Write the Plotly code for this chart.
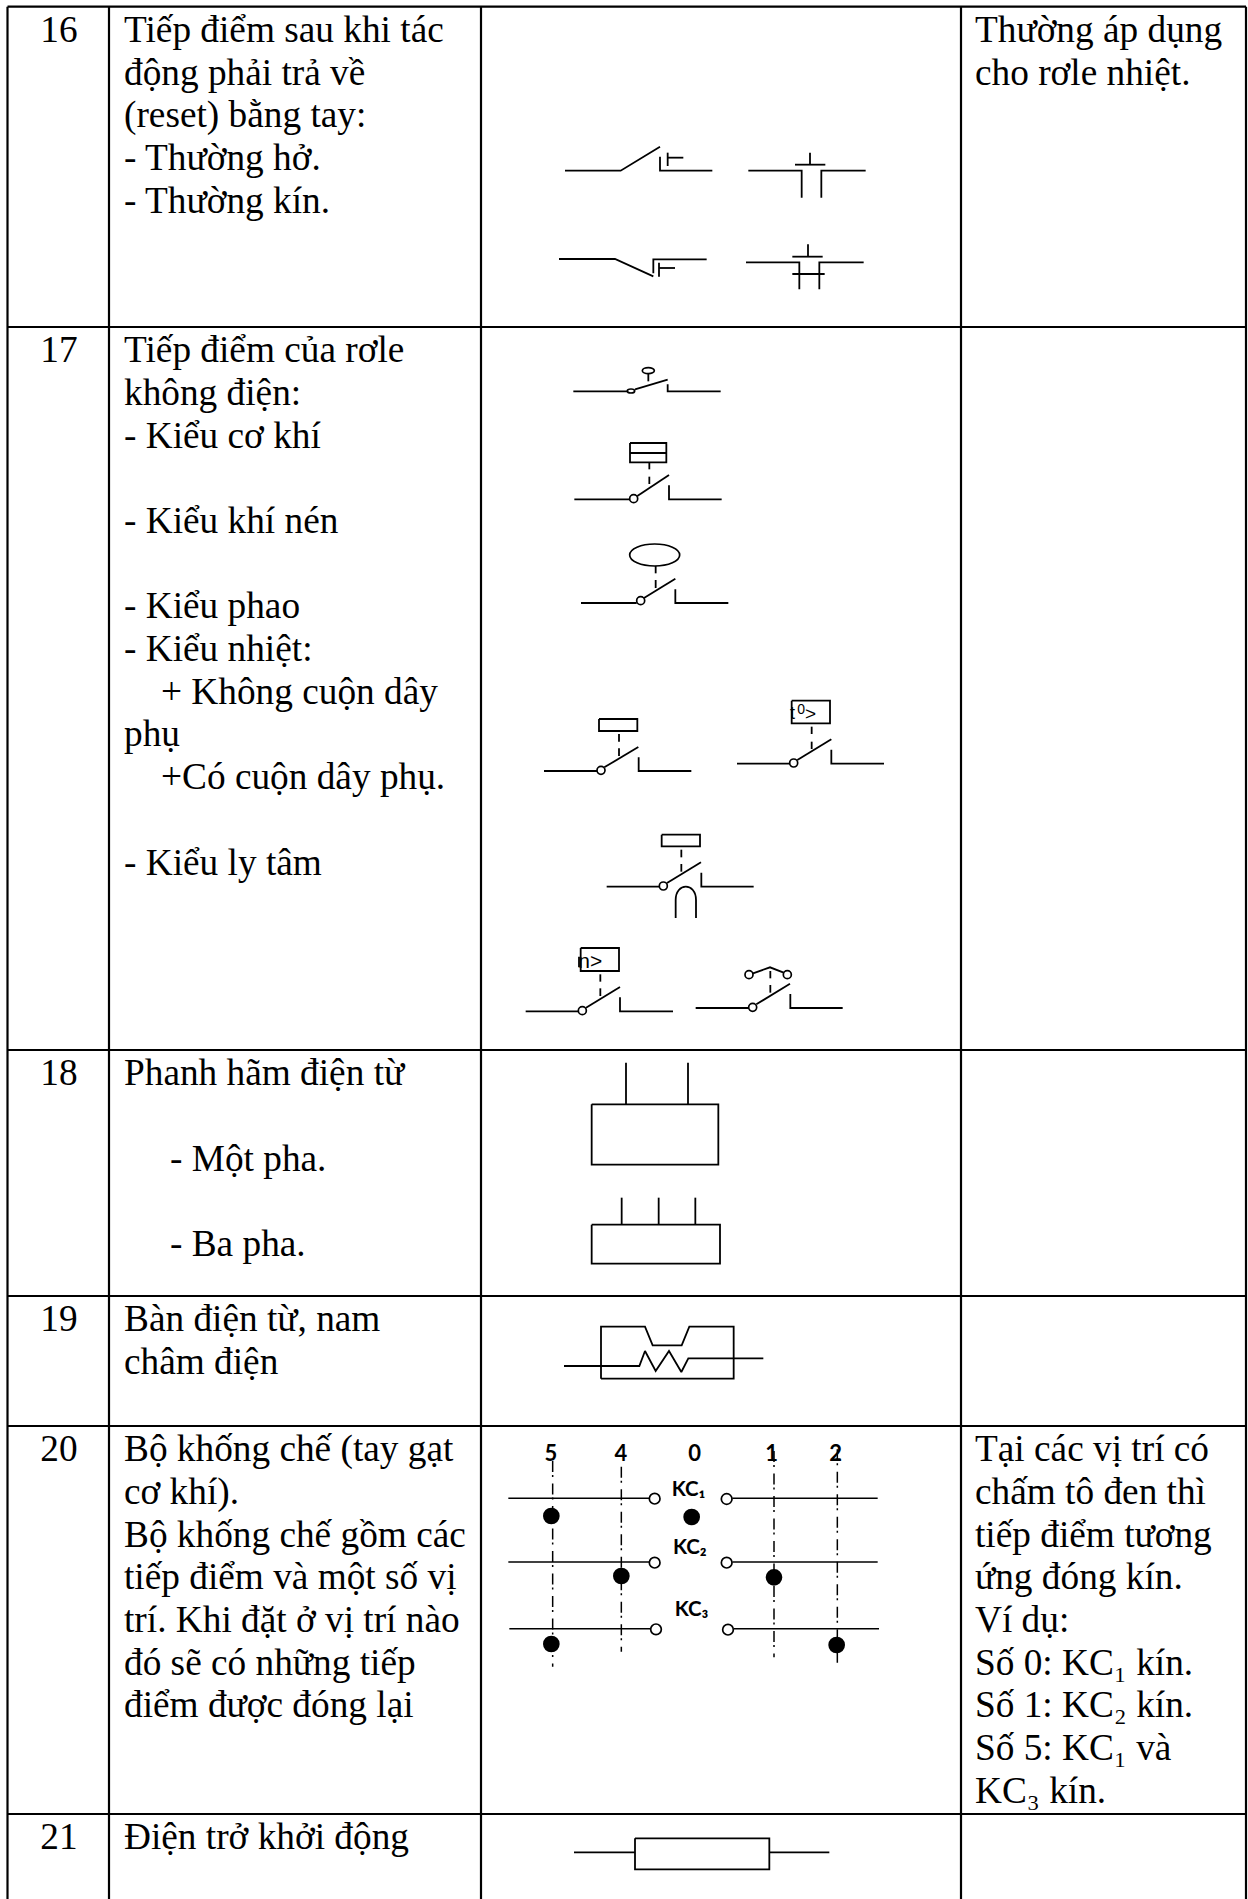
import plotly.graph_objects as go

W, H = 1248, 1899
SERIF = "Liberation Serif"
FS = 37.3

# ---- table frame ----
col_x = [7.5, 109, 481, 961, 1246]
row_y = [6.7, 327, 1050, 1296, 1426, 1814]
page_bottom = 1899

# ---- text (x, line index, string) ----
LEFT, RIGHT, IND1, IND2 = 124, 975, 161, 170
numbers = ["16", "17", "18", "19", "20", "21"]
LH = 42.7
row16 = [(LEFT, 0, "Tiếp điểm sau khi tác"), (LEFT, 1, "động phải trả về"), (LEFT, 2, "(reset) bằng tay:"),
         (LEFT, 3, "- Thường hở."), (LEFT, 4, "- Thường kín.")]
row16r = [(RIGHT, 0, "Thường áp dụng"), (RIGHT, 1, "cho rơle nhiệt.")]
row17 = [(LEFT, 0, "Tiếp điểm của rơle"), (LEFT, 1, "không điện:"), (LEFT, 2, "- Kiểu cơ khí"),
         (LEFT, 4, "- Kiểu khí nén"), (LEFT, 6, "- Kiểu phao"), (LEFT, 7, "- Kiểu nhiệt:"),
         (IND1, 8, "+ Không cuộn dây"), (LEFT, 9, "phụ"), (IND1, 10, "+Có cuộn dây phụ."),
         (LEFT, 12, "- Kiểu ly tâm")]
row18 = [(LEFT, 0, "Phanh hãm điện từ"), (IND2, 2, "- Một pha."), (IND2, 4, "- Ba pha.")]
row19 = [(LEFT, 0, "Bàn điện từ, nam"), (LEFT, 1, "châm điện")]
row20 = [(LEFT, 0, "Bộ khống chế (tay gạt"), (LEFT, 1, "cơ khí)."), (LEFT, 2, "Bộ khống chế gồm các"),
         (LEFT, 3, "tiếp điểm và một số vị"), (LEFT, 4, "trí. Khi đặt ở vị trí nào"),
         (LEFT, 5, "đó sẽ có những tiếp"), (LEFT, 6, "điểm được đóng lại")]
row20r = [(RIGHT, 0, "Tại các vị trí có"), (RIGHT, 1, "chấm tô đen thì"), (RIGHT, 2, "tiếp điểm tương"),
          (RIGHT, 3, "ứng đóng kín."), (RIGHT, 4, "Ví dụ:"), (RIGHT, 5, "Số 0: KC₁ kín."),
          (RIGHT, 6, "Số 1: KC₂ kín."), (RIGHT, 7, "Số 5: KC₁ và"),
          (RIGHT, 8, "KC₃ kín.")]
row21 = [(LEFT, 0, "Điện trở khởi động")]
TEXT_ROWS = [(0, row16), (0, row16r), (1, row17), (2, row18), (3, row19), (4, row20), (4, row20r), (5, row21)]

# ---- symbols: polylines written in crop coordinates (origin + value/3) ----
O1, O2, O3, O4, O5, O8 = (480, 0), (520, 340), (510, 680), (540, 1040), (490, 1420), (540, 1780)

lines = [
    (O1, [(255,512),(422,512),(540,440)]), (O1, [(540,470),(540,512),(697,512)]),
    (O1, [(563,458),(563,498)]), (O1, [(563,473),(610,473)]),
    (O1, [(805,512),(965,512),(965,593)]), (O1, [(1157,512),(1024,512),(1024,593)]),
    (O1, [(945,494),(1036,494)]), (O1, [(990,458),(990,494)]),
    (O1, [(237,777),(405,777),(520,829)]), (O1, [(520,820),(520,778),(680,778)]),
    (O1, [(537,788),(537,830)]), (O1, [(537,804),(585,804)]),
    (O1, [(798,787),(958,787),(958,868)]), (O1, [(1151,787),(1018,787),(1018,868)]),
    (O1, [(937,770),(1028,770)]), (O1, [(984,733),(984,770)]), (O1, [(937,822),(1034,822)]),

    (O2, [(160,154),(322,154)]), (O2, [(345,148),(443,119)]), (O2, [(443,133),(443,154),(602,154)]),
    (O2, [(385,101),(385,124)]),
    (O2, [(163,478),(330,478)]), (O2, [(352,468),(447,405)]), (O2, [(447,436),(447,478),(605,478)]),
    (O2, [(330,309),(439,309),(439,367),(330,367),(330,309)]), (O2, [(330,339),(439,339)]),
    (O2, [(388,367),(388,388)]), (O2, [(388,410),(388,432)]),
    (O2, [(183,789),(350,789)]), (O2, [(372,774),(466,716)]), (O2, [(466,748),(466,789),(625,789)]),
    (O2, [(407,678),(407,700)]), (O2, [(407,720),(407,744)]),

    (O3, [(102,273),(262,273)]), (O3, [(283,262),(385,201)]), (O3, [(386,232),(386,273),(544,273)]),
    (O3, [(267,117),(382,117),(382,153),(267,153),(267,117)]), (O3, [(327,162),(327,185)]), (O3, [(327,205),(327,228)]),
    (O3, [(681,251),(840,251)]), (O3, [(862,240),(964,178)]), (O3, [(964,209),(964,251),(1122,251)]),
    (O3, [(845,62),(960,62),(960,130),(845,130),(845,62)]), (O3, [(905,140),(905,162)]), (O3, [(905,185),(905,207)]),
    (O3, [(290,620),(450,620)]), (O3, [(471,609),(573,547)]), (O3, [(574,578),(574,620),(731,620)]),
    (O3, [(455,464),(570,464),(570,499),(455,499),(455,464)]), (O3, [(514,509),(514,532)]), (O3, [(514,552),(514,575)]),
    (O3, [(47,994),(206,994)]), (O3, [(228,983),(330,921)]), (O3, [(330,952),(330,994),(489,994)]),
    (O3, [(212,804),(327,804),(327,873),(212,873),(212,804)]), (O3, [(271,883),(271,905)]), (O3, [(271,925),(271,948)]),
    (O3, [(207,830),(207,862)]),
    (O3, [(557,984),(717,984)]), (O3, [(739,973),(840,911)]), (O3, [(841,942),(841,984),(998,984)]),
    (O3, [(729,880),(780,862),(821,878)]), (O3, [(781,873),(781,895)]), (O3, [(781,915),(781,938)]),

    (O4, [(155,193),(535,193),(535,374),(155,374),(155,193)]), (O4, [(258,68),(258,193)]), (O4, [(444,68),(444,193)]),
    (O4, [(155,554),(540,554),(540,671),(155,671),(155,554)]), (O4, [(245,473),(245,554)]),
    (O4, [(356,473),(356,554)]), (O4, [(466,473),(466,554)]),
    (O4, [(183,1016),(183,860),(315,860),(338,916),(425,916),(448,860),(581,860),(581,1016),(183,1016)]),
    (O4, [(72,978),(298,978),(315,933),(347,993),(387,933),(424,996),(445,955),(670,955)]),

    (O8, [(285,175),(688,175),(688,268),(285,268),(285,175)]), (O8, [(102,217),(285,217)]), (O8, [(688,217),(868,217)]),
]
thin_lines = [
    (O5, [(55,235),(478,235)]), (O5, [(727,235),(1163,235)]),
    (O5, [(55,426),(478,426)]), (O5, [(727,426),(1163,426)]),
    (O5, [(58,626),(482,626)]), (O5, [(731,626),(1167,626)]),
]
dashdot_lines = [
    (O5, [(188,123),(188,740)]), (O5, [(394,140),(394,695)]),
    (O5, [(852,93),(852,712)]), (O5, [(1042,88),(1042,730)]),
]
# open circles / ellipses: centre x, centre y, rx, ry
open_rings = [
    (O2, 333,153,11,6), (O2, 385,92,18,9), (O2, 341,476,12,12), (O2, 362,782,12,12), (O2, 404,645,75,33),
    (O3, 273,271,12,12), (O3, 851,249,12,12), (O3, 460,618,12,12), (O3, 217,992,12,12), (O3, 728,982,12,12),
    (O3, 717,884,12,12), (O3, 832,884,12,12),
    (O5, 494,236,16,16), (O5, 710,237,16,16), (O5, 494,428,16,16), (O5, 710,428,16,16),
    (O5, 498,628,16,16), (O5, 714,629,16,16),
]
filled_dots = [(O5, 184,288), (O5, 605,291), (O5, 394,468), (O5, 852,472), (O5, 184,672), (O5, 1040,675)]
DOT_R = 25
arch = (O3, 497, 714, 558, 660, 620)

switch_labels = [("5",183,106), ("4",393,106), ("0",614,106), ("1",845,106), ("2",1037,106)]
kc_labels = [("KC₁",545,212), ("KC₂",549,386), ("KC₃",554,572)]
small_labels = [(O3, "0", 862, 92, 14), (O3, ">", 885, 107, 19), (O3, "t", 840, 104, 18), (O3, "n>", 205, 849, 21)]


def Z(o, x, y):
    return o[0] + x / 3, o[1] + y / 3


fig = go.Figure()


def add_line(xs, ys, width, dash="solid"):
    fig.add_trace(go.Scatter(x=xs, y=ys, mode="lines", line=dict(color="#000", width=width, dash=dash),
                             hoverinfo="skip", showlegend=False))


def add_text(x, y, s, size, family=SERIF, pos="middle right", weight="normal"):
    fig.add_trace(go.Scatter(x=[x], y=[y], mode="text", text=[s], textposition=pos,
                             textfont=dict(family=family, size=size, color="#000", weight=weight),
                             hoverinfo="skip", showlegend=False))


# frame
for xv in col_x:
    add_line([xv, xv], [row_y[0], page_bottom], 2.2)
for yv in row_y:
    add_line([col_x[0], col_x[-1]], [yv, yv], 2.2)

# cell text
MID = 0.245 * FS
for i, n in enumerate(numbers):
    add_text(59, row_y[i] + 35 - MID, n, FS, pos="middle center")
for r, cells in TEXT_ROWS:
    for x, k, s in cells:
        add_text(x, row_y[r] + 35 + k * LH - MID, s, FS)

# symbols
for o, pts in lines:
    p = [Z(o, *q) for q in pts]
    add_line([a for a, _ in p], [b for _, b in p], 1.8)
for o, pts in thin_lines:
    p = [Z(o, *q) for q in pts]
    add_line([a for a, _ in p], [b for _, b in p], 1.5)
for o, pts in dashdot_lines:
    p = [Z(o, *q) for q in pts]
    add_line([a for a, _ in p], [b for _, b in p], 1.5, dash="11px,3px,2px,6.5px")

for o, cx, cy, rx, ry in open_rings:
    x0, y0 = Z(o, cx - rx, cy - ry)
    x1, y1 = Z(o, cx + rx, cy + ry)
    fig.add_shape(type="circle", xref="x", yref="y", x0=x0, y0=y0, x1=x1, y1=y1,
                  line=dict(color="#000", width=1.7), fillcolor="#fff")
for o, cx, cy in filled_dots:
    x0, y0 = Z(o, cx - DOT_R, cy - DOT_R)
    x1, y1 = Z(o, cx + DOT_R, cy + DOT_R)
    fig.add_shape(type="circle", xref="x", yref="y", x0=x0, y0=y0, x1=x1, y1=y1,
                  line=dict(color="#000", width=0), fillcolor="#000")
o, xa, yb, xc, ys, yt = arch
ax, ay = Z(o, xa, yb)
bx, by = Z(o, xa, ys)
cx_, cy_ = Z(o, xc, ys)
dx, dy = Z(o, xc, yb)
_, ty = Z(o, 0, ys - (ys - yt) * 4 / 3)
fig.add_shape(type="path", xref="x", yref="y",
              path=f"M {ax} {ay} L {bx} {by} C {bx} {ty}, {cx_} {ty}, {cx_} {cy_} L {dx} {dy}",
              line=dict(color="#000", width=1.8))

for s, x, y in switch_labels:
    px, py = Z(O5, x, y)
    add_text(px, py, s, 22, family="Lato", pos="middle center", weight=700)
for s, x, y in kc_labels:
    px, py = Z(O5, x, y)
    add_text(px, py, s, 20.5, family="Lato", weight=700)
for o, s, x, y, size in small_labels:
    px, py = Z(o, x, y)
    add_text(px, py, s, size, family="Liberation Sans")

fig.update_layout(
    width=W, height=H, autosize=False, margin=dict(l=0, r=0, t=0, b=0, pad=0),
    paper_bgcolor="#fff", plot_bgcolor="#fff", showlegend=False,
    xaxis=dict(range=[0, W], visible=False, fixedrange=True),
    yaxis=dict(range=[H, 0], visible=False, fixedrange=True),
)
fig.write_html("out.html", config=dict(displayModeBar=False, staticPlot=True),
               post_script="document.body.style.margin='0';document.documentElement.style.overflow='hidden';")
